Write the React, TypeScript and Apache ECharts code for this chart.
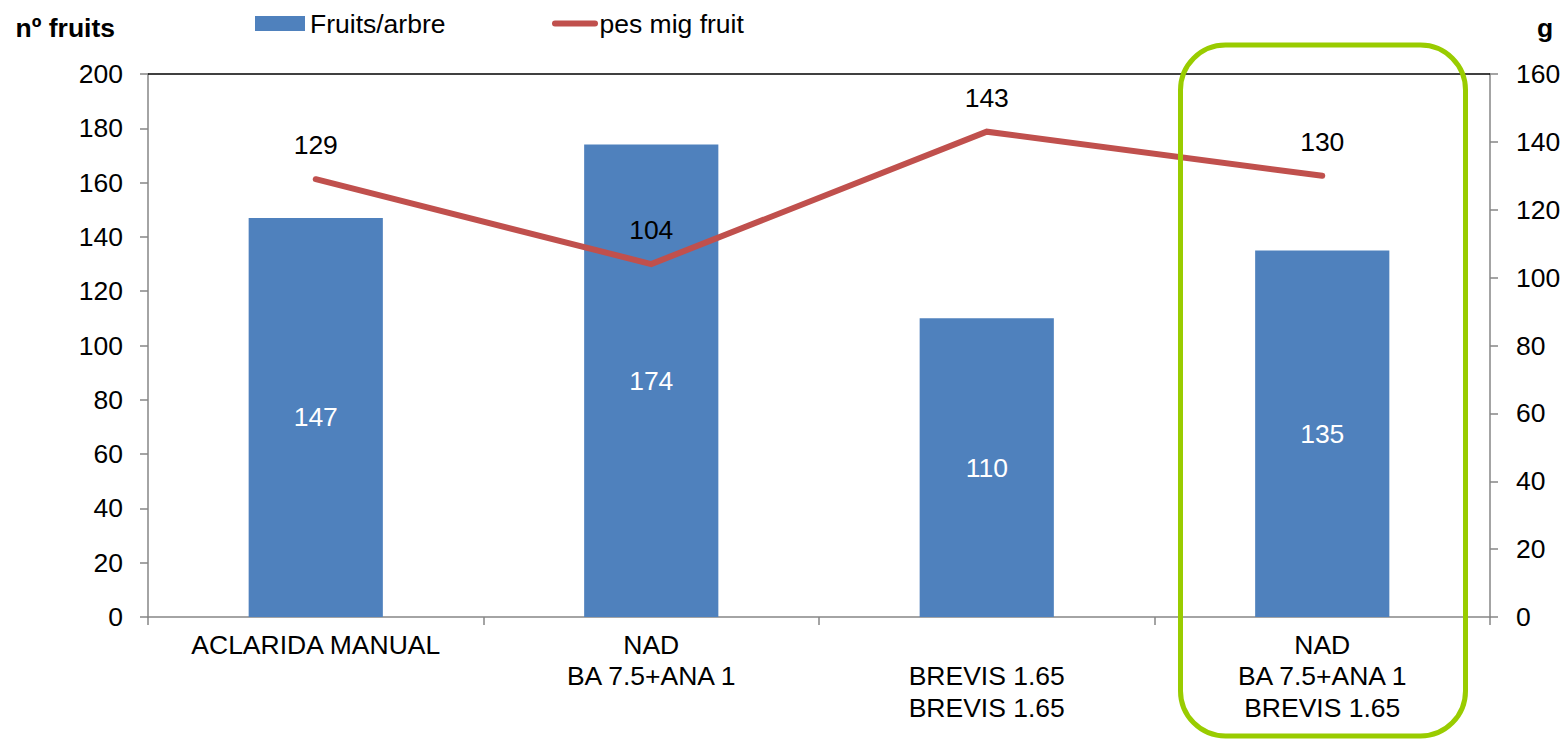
import React, { useEffect, useRef } from "react";
import * as echarts from "echarts";

const categories = [
  "ACLARIDA MANUAL",
  "NAD\nBA 7.5+ANA 1",
  "\nBREVIS 1.65\nBREVIS 1.65",
  "NAD\nBA 7.5+ANA 1\nBREVIS 1.65",
];
const fruitsPerTree = [147, 174, 110, 135];
const avgFruitWeight = [129, 104, 143, 130];

const leftMin = 0;
const leftMax = 200;
const leftInterval = 20;
const rightMin = 0;
const rightMax = 160;
const rightInterval = 20;

const FONT = "'Liberation Sans', Arial, sans-serif";
const FS = 26.5;

export default function App() {
  const ref = useRef<HTMLDivElement>(null);

  useEffect(() => {
    if (!ref.current) return;
    const chart = echarts.init(ref.current, undefined, { renderer: "svg" });
    chart.setOption({
      animation: false,
      backgroundColor: "#ffffff",
      textStyle: { fontFamily: FONT, color: "#000" },
      grid: { left: 148, right: 75, top: 74, bottom: 122, containLabel: false },
      legend: [
        {
          data: [{ name: "Fruits/arbre", icon: "rect" }],
          left: 255,
          top: 10,
          padding: 0,
          itemWidth: 50,
          itemHeight: 15,
          textStyle: { fontSize: FS, fontFamily: FONT, color: "#000" },
        },
        {
          data: [
            {
              name: "pes mig fruit",
              icon: "path://M3,0 L43,0 A3,3 0 0 1 43,6 L3,6 A3,3 0 0 1 3,0 Z",
            },
          ],
          left: 552,
          top: 10,
          padding: 0,
          itemWidth: 47,
          itemHeight: 6,
          textStyle: { fontSize: FS, fontFamily: FONT, color: "#000", padding: [0, 0, 0, -4] },
        },
      ],
      xAxis: {
        type: "category",
        data: categories,
        boundaryGap: true,
        axisLine: { show: true, lineStyle: { color: "#868686", width: 1.5 } },
        axisTick: { show: true, alignWithLabel: false, length: 8, lineStyle: { color: "#868686", width: 1.5 } },
        axisLabel: {
          fontSize: FS,
          fontFamily: FONT,
          color: "#000",
          margin: 12,
          lineHeight: 31.5,
          interval: 0,
        },
        splitLine: { show: false },
      },
      yAxis: [
        {
          type: "value",
          min: leftMin,
          max: leftMax,
          interval: leftInterval,
          name: "nº fruits",
          nameLocation: "end",
          nameGap: 33,
          nameTextStyle: {
            fontSize: FS,
            fontWeight: "bold",
            fontFamily: FONT,
            color: "#000",
            align: "right",
            padding: [0, 33, 0, 0],
          },
          axisLine: { show: true, lineStyle: { color: "#868686", width: 1.5 } },
          axisTick: { show: true, length: 8, lineStyle: { color: "#868686", width: 1.5 } },
          axisLabel: { fontSize: FS, fontFamily: FONT, color: "#000", margin: 25 },
          splitLine: { show: false },
        },
        {
          type: "value",
          min: rightMin,
          max: rightMax,
          interval: rightInterval,
          name: "g",
          nameLocation: "end",
          nameGap: 33,
          nameTextStyle: {
            fontSize: FS,
            fontWeight: "bold",
            fontFamily: FONT,
            color: "#000",
            align: "left",
            padding: [0, 0, 0, 47],
          },
          axisLine: { show: true, lineStyle: { color: "#868686", width: 1.5 } },
          axisTick: { show: true, length: 8, lineStyle: { color: "#868686", width: 1.5 } },
          axisLabel: { fontSize: FS, fontFamily: FONT, color: "#000", margin: 26 },
          splitLine: { show: false },
        },
      ],
      series: [
        {
          name: "Fruits/arbre",
          type: "bar",
          yAxisIndex: 0,
          data: fruitsPerTree,
          barWidth: "40%",
          itemStyle: { color: "#4F81BD" },
          label: {
            show: true,
            position: "inside",
            color: "#fff",
            fontSize: FS,
            fontFamily: FONT,
          },
          z: 2,
        },
        {
          name: "pes mig fruit",
          type: "line",
          yAxisIndex: 1,
          data: avgFruitWeight,
          symbol: "circle",
          symbolSize: 1,
          showSymbol: true,
          itemStyle: { color: "#C0504D" },
          lineStyle: { color: "#C0504D", width: 6, cap: "round", join: "miter" },
          label: {
            show: true,
            position: "top",
            distance: 20,
            color: "#000",
            fontSize: FS,
            fontFamily: FONT,
          },
          z: 3,
        },
      ],
      graphic: [
        {
          type: "line",
          shape: { x1: 148, y1: 74, x2: 1490, y2: 74 },
          style: { stroke: "#000", lineWidth: 1.5 },
          z: 10,
        },
        {
          type: "rect",
          shape: { x: 1180.5, y: 45, width: 285, height: 691, r: 45 },
          style: { stroke: "#99CC00", lineWidth: 5, fill: "none" },
          z: 20,
        },
      ],
    });
    return () => chart.dispose();
  }, []);

  return (
    <div
      ref={ref}
      style={{ position: "fixed", left: 0, top: 0, width: 1565, height: 739 }}
    />
  );
}
